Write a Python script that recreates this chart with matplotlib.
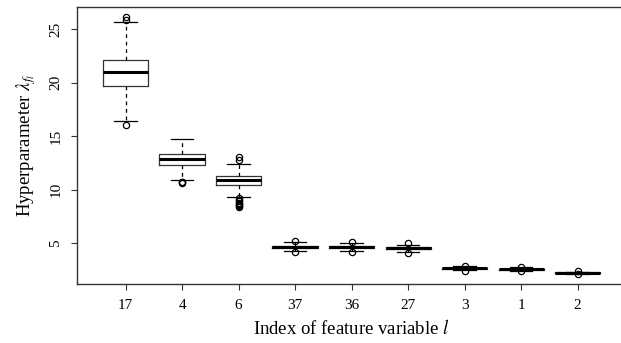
import matplotlib
matplotlib.use("Agg")
import matplotlib.pyplot as plt

plt.rcParams['font.family'] = ['Liberation Serif', 'DejaVu Serif']
plt.rcParams['mathtext.fontset'] = 'stix'

# feature indices, ordered as in the chart
labels = ['17', '4', '6', '37', '36', '27', '3', '1', '2']

# box statistics
q1 = [19.71, 12.34, 10.47, 4.55, 4.57, 4.44, 2.62, 2.52, 2.21]
med = [20.97, 12.87, 10.91, 4.66, 4.67, 4.53, 2.67, 2.57, 2.25]
q3 = [22.10, 13.34, 11.28, 4.78, 4.77, 4.62, 2.72, 2.62, 2.29]
whislo = [16.45, 10.88, 9.35, 4.30, 4.31, 4.16, 2.50, 2.44, 2.16]
whishi = [25.63, 14.74, 12.43, 5.10, 5.00, 4.87, 2.84, 2.74, 2.36]
fliers = [
    [26.12, 25.85, 16.02],
    [10.75, 10.68, 10.62],
    [13.06, 12.78, 9.22, 9.05, 8.92, 8.80, 8.70, 8.60, 8.50, 8.42],
    [5.24, 4.22],
    [5.12, 4.16],
    [5.00, 4.07],
    [2.88, 2.44],
    [2.83, 2.41],
    [2.40, 2.13],
]

stats = []
for i in range(len(labels)):
    stats.append(dict(label=labels[i], q1=q1[i], med=med[i], q3=q3[i],
                      whislo=whislo[i], whishi=whishi[i], fliers=fliers[i]))

fig = plt.figure(figsize=(6.21, 3.43), dpi=100)
ax = fig.add_axes([77 / 621, 0.1711, 549.2 / 621, 0.8085])

ax.bxp(stats, positions=range(1, len(labels) + 1), widths=0.8,
       boxprops=dict(color='#333333', linewidth=0.9),
       medianprops=dict(color='black', linewidth=2.2),
       whiskerprops=dict(color='black', linewidth=0.9, linestyle=(0, (3, 3))),
       capprops=dict(color='black', linewidth=0.9),
       capwidths=0.4,
       flierprops=dict(marker='o', markerfacecolor='none', markeredgecolor='black',
                       markersize=4.5, markeredgewidth=0.9))

ax.set_xlim(0.14, 9.86)
ax.set_ylim(1.17, 27.06)
ax.set_xticks(range(1, len(labels) + 1))
ax.set_xticklabels(labels)
ax.set_yticks([5, 10, 15, 20, 25])
ax.tick_params(axis='both', labelsize=11, length=4.5, width=0.8, color='#333333', pad=6)
plt.setp(ax.get_yticklabels(), rotation=90, va='center')

for s in ax.spines.values():
    s.set_linewidth(1.0)
    s.set_color('#333333')

ax.set_xlabel('Index of feature variable $l$', fontsize=13.5, labelpad=5)
ax.set_ylabel(r'Hyperparameter $\lambda_{f_l}$', fontsize=13.5, labelpad=8)

fig.savefig('out.png', dpi=100)
